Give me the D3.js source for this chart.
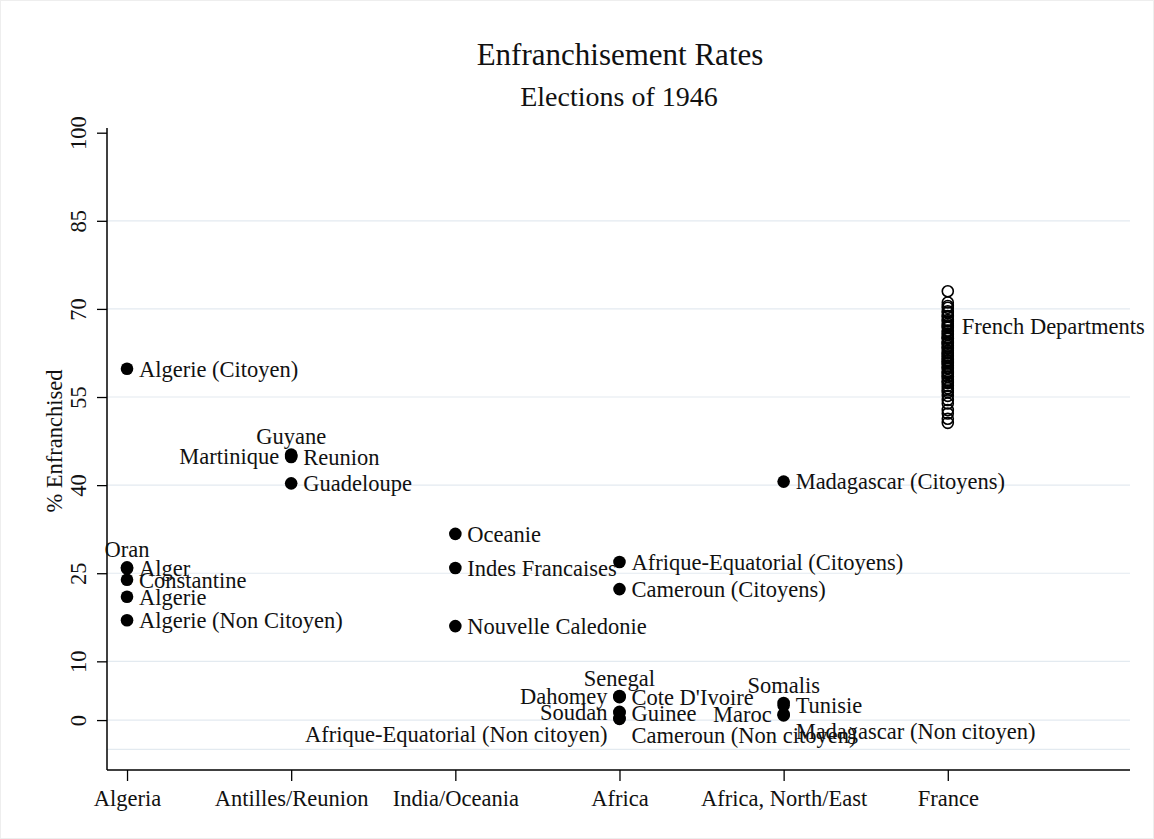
<!DOCTYPE html>
<html><head><meta charset="utf-8">
<script src="https://cdn.jsdelivr.net/npm/d3@7"></script>
<style>body{margin:0;background:#fff;} text{font-family:"Liberation Serif","Times New Roman",serif;}</style>
</head><body><svg id="c" width="1154" height="839"></svg>
<script>
const categories = ["Algeria","Antilles/Reunion","India/Oceania","Africa","Africa, North/East","France"];
const yTicks = [0,10,25,40,55,70,85,100];
const yGrid = [-5,0,10,25,40,55,70,85];

const colonyNames = ["Algerie (Citoyen)","Oran","Alger","Constantine","Algerie","Algerie (Non Citoyen)",
  "Guyane","Martinique","Reunion","Guadeloupe",
  "Oceanie","Indes Francaises","Nouvelle Caledonie",
  "Afrique-Equatorial (Citoyens)","Cameroun (Citoyens)","Senegal","Dahomey","Cote D'Ivoire","Soudan","Guinee","Afrique-Equatorial (Non citoyen)","Cameroun (Non citoyen)",
  "Madagascar (Citoyens)","Somalis","Tunisie","Maroc","Madagascar (Non citoyen)"];
const colonyGroup = [1,1,1,1,1,1, 2,2,2,2, 3,3,3, 4,4,4,4,4,4,4,4,4, 5,5,5,5,5];
const colonyValues = [59.8,26.0,25.8,23.9,21.0,17.0, 45.2,45.0,44.8,40.3, 31.7,25.9,16.0,
  26.9,22.3,4.1,4.0,3.9,1.4,1.2,0.3,0.2, 40.6,2.9,2.5,1.0,0.8];
const colonyLabelClock = [3,12,3,3,3,3, 12,9,3,3, 3,3,3, 3,3,12,9,3,9,3,8,4, 3,12,3,9,4];

const franceValues = [73.0,71.1,70.5,70.2,69.6,69.4,68.8,68.7,68.1,67.9,67.5,67.2,67.0,66.8,66.3,66.1,65.8,65.6,65.2,65.0,64.9,64.4,64.2,64.1,63.7,63.4,63.3,62.9,62.6,62.4,62.1,61.9,61.6,61.3,61.1,60.8,60.7,60.3,60.0,59.9,59.4,59.1,58.9,58.5,58.4,57.9,57.6,57.4,56.9,56.5,56.1,55.8,55.2,54.5,53.9,52.8,52.2,51.3,50.6];
const franceLabel = "French Departments";
const franceLabelValue = 67.0;

const svg = d3.select("#c");
const L=107, R=1130, T=128, B=770;
const FS = 22.5;
const x = d3.scaleLinear().domain([0.878,7.11]).range([L,R]);
const y = d3.scaleLinear().domain([-8.5,100.8]).range([B,T]);

svg.append("rect").attr("x",0.5).attr("y",0.5).attr("width",1153).attr("height",838).attr("fill","#fff").attr("stroke","#eeeeee");

svg.append("g").selectAll("line").data(yGrid).join("line")
  .attr("x1",L).attr("x2",R).attr("y1",d=>y(d)).attr("y2",d=>y(d))
  .attr("stroke","#e3eaf0").attr("stroke-width",1.2);

const yAxis = d3.axisLeft(y).tickValues(yTicks).tickSize(10);
const gy = svg.append("g").attr("transform",`translate(${L},0)`).call(yAxis);
gy.select(".domain").attr("d",`M0,${T}V${B}`).attr("stroke","#000").attr("stroke-width",1.5);
gy.selectAll(".tick line").attr("stroke","#000").attr("stroke-width",1.3);
gy.selectAll(".tick text").attr("font-size",FS).attr("fill","#111")
  .attr("font-family","Liberation Serif, serif")
  .attr("x",0).attr("dy",null).attr("text-anchor","middle")
  .attr("transform","translate(-21,0) rotate(-90)");

const xAxis = d3.axisBottom(x).tickValues([1,2,3,4,5,6]).tickFormat(d=>categories[d-1]).tickSize(11).tickPadding(8);
const gx = svg.append("g").attr("transform",`translate(0,${B})`).call(xAxis);
gx.select(".domain").attr("d",`M${L},0H${R}`).attr("stroke","#000").attr("stroke-width",1.5);
gx.selectAll(".tick line").attr("stroke","#000").attr("stroke-width",1.3);
gx.selectAll(".tick text").attr("font-size",FS).attr("fill","#111").attr("font-family","Liberation Serif, serif").attr("dy","0.75em");

svg.append("text").attr("x",620).attr("y",65).attr("text-anchor","middle").attr("font-size",31).attr("fill","#111").text("Enfranchisement Rates");
svg.append("text").attr("x",619).attr("y",106).attr("text-anchor","middle").attr("font-size",28).attr("fill","#111").text("Elections of 1946");
svg.append("text").attr("transform",`translate(62,441) rotate(-90)`).attr("text-anchor","middle").attr("font-size",FS).attr("fill","#111").text("% Enfranchised");

svg.append("g").selectAll("circle").data(franceValues).join("circle")
  .attr("cx",x(6)).attr("cy",d=>y(d)).attr("r",5.5)
  .attr("fill","none").attr("stroke","#000").attr("stroke-width",1.6);
svg.append("text").attr("x",x(6)+14).attr("y",y(franceLabelValue)).attr("dy","0.35em")
  .attr("font-size",FS).attr("fill","#111").text(franceLabel);

const colonies = colonyNames.map((n,i)=>({name:n,g:colonyGroup[i],v:colonyValues[i],c:colonyLabelClock[i]}));
svg.append("g").selectAll("circle").data(colonies).join("circle")
  .attr("cx",d=>x(d.g)).attr("cy",d=>y(d.v)).attr("r",6.3).attr("fill","#000");

const off = {3:[12,0,"start"],9:[-12,0,"end"],12:[0,-18,"middle"],4:[12,16,"start"],8:[-12,16,"end"]};
svg.append("g").selectAll("text").data(colonies).join("text")
  .attr("x",d=>x(d.g)+off[d.c][0]).attr("y",d=>y(d.v)+off[d.c][1]).attr("dy","0.35em")
  .attr("text-anchor",d=>off[d.c][2]).attr("font-size",FS).attr("fill","#111").text(d=>d.name);
</script></body></html>
